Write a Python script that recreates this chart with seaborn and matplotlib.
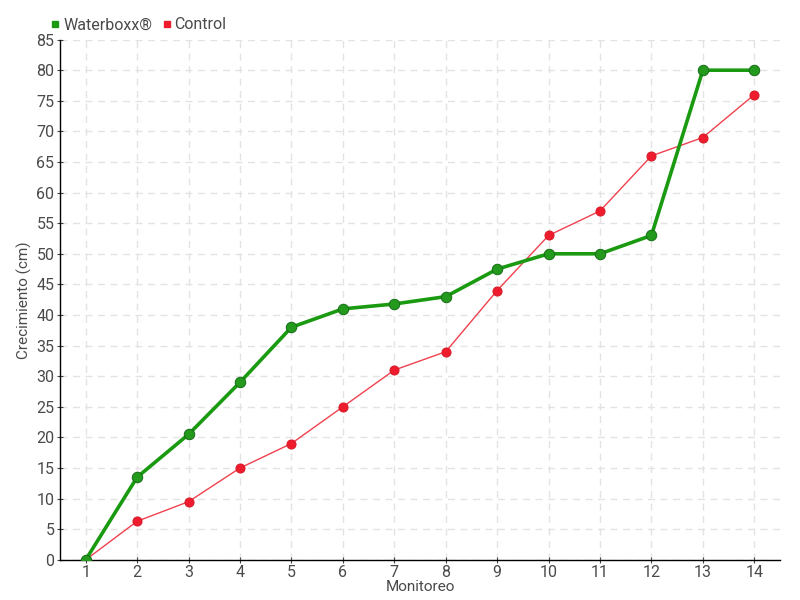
import seaborn as sns
import matplotlib.pyplot as plt
from matplotlib.lines import Line2D
import pandas as pd

monitoreo = list(range(1, 15))
waterboxx = [0, 13.5, 20.5, 29, 38, 41, 41.8, 43, 47.5, 50, 50, 53, 80, 80]
control = [0, 6.3, 9.5, 15, 19, 25, 31, 34, 44, 53, 57, 66, 69, 76]

sns.set_style("white")
plt.rcParams['font.family'] = ['Roboto', 'DejaVu Sans']

df = pd.DataFrame({
    'Monitoreo': monitoreo * 2,
    'Crecimiento': waterboxx + control,
    'Serie': ['Waterboxx®'] * 14 + ['Control'] * 14,
})

fig = plt.figure(figsize=(8, 6), dpi=100)
ax = fig.add_axes([0.075, 0.067, 0.9, 0.867])

green = '#1a9a10'
red = '#ee1c2c'
grey = '#4a4a4a'
sns.lineplot(data=df[df.Serie == 'Control'], x='Monitoreo', y='Crecimiento',
             color='#f0414f', lw=1, marker='o', markersize=6.5,
             markerfacecolor=red, markeredgecolor='#d81a28', ax=ax, zorder=3)
sns.lineplot(data=df[df.Serie == 'Waterboxx®'], x='Monitoreo', y='Crecimiento',
             color=green, lw=2.6, marker='o', markersize=7.5,
             markerfacecolor='#239a1c', markeredgecolor='#17701a', ax=ax, zorder=4)

ax.set_xlim(0.5, 14.5)
ax.set_ylim(0, 85)
ax.set_xticks(monitoreo)
ax.set_yticks(range(0, 90, 5))
ax.grid(True, color='#e3e3e3', linestyle=(0, (5, 4)), lw=1)
for s in ['top', 'right']:
    ax.spines[s].set_visible(False)
for s in ['left', 'bottom']:
    ax.spines[s].set_color('black')
    ax.spines[s].set_linewidth(1)
ax.tick_params(axis='both', color='#444444', labelcolor=grey, labelsize=11.5,
               length=4, direction='inout', bottom=True, left=True, pad=2)
ax.set_xlabel('Monitoreo', color=grey, fontsize=11, labelpad=0)
ax.set_ylabel('Crecimiento (cm)', color=grey, fontsize=11, labelpad=3)

handles = [Line2D([], [], ls='', marker='s', markersize=5, color=green),
           Line2D([], [], ls='', marker='s', markersize=5, color=red)]
fig.legend(handles, ['Waterboxx®', 'Control'], loc='upper left',
           bbox_to_anchor=(0.045, 0.995), ncol=2, frameon=False, fontsize=11.5,
           handlelength=0.6, handletextpad=0.2, columnspacing=0.6,
           labelcolor=grey)

fig.savefig('out.png', dpi=100)
